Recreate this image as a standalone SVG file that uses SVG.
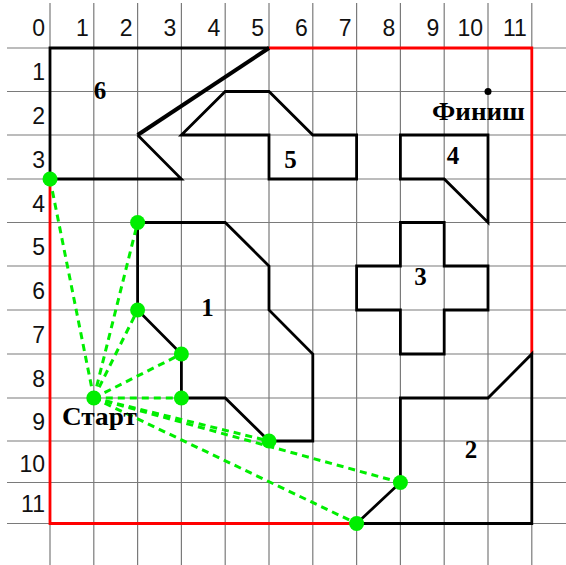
<svg xmlns="http://www.w3.org/2000/svg" width="566" height="565" viewBox="0 0 566 565">
<style>
.grid line{stroke:#7a7a7a;stroke-width:1.2}
.lbl{font-family:"Liberation Sans",Arial,sans-serif;font-size:23px;fill:#111;text-anchor:end}
.shape{fill:none;stroke:#000;stroke-width:2.8;stroke-linejoin:miter}
.num{font-family:"Liberation Serif","Times New Roman",serif;font-weight:bold;font-size:25px;fill:#000;text-anchor:middle}
.red{fill:none;stroke:#ff0000;stroke-width:2.8}
.dash{stroke:#00ee00;stroke-width:3;stroke-dasharray:7 5;fill:none}
.dot{fill:#00ee00}
</style>
<rect width="566" height="565" fill="#fff"/>
<g class="grid">
<line x1="50" y1="3" x2="50" y2="565"/>
<line x1="93.8" y1="3" x2="93.8" y2="565"/>
<line x1="137.6" y1="3" x2="137.6" y2="565"/>
<line x1="181.4" y1="3" x2="181.4" y2="565"/>
<line x1="225.2" y1="3" x2="225.2" y2="565"/>
<line x1="269" y1="3" x2="269" y2="565"/>
<line x1="312.8" y1="3" x2="312.8" y2="565"/>
<line x1="356.6" y1="3" x2="356.6" y2="565"/>
<line x1="400.4" y1="3" x2="400.4" y2="565"/>
<line x1="444.2" y1="3" x2="444.2" y2="565"/>
<line x1="488" y1="3" x2="488" y2="565"/>
<line x1="531.8" y1="3" x2="531.8" y2="565"/>
<line x1="7" y1="48" x2="566" y2="48"/>
<line x1="7" y1="91.5" x2="566" y2="91.5"/>
<line x1="7" y1="135" x2="566" y2="135"/>
<line x1="7" y1="179" x2="566" y2="179"/>
<line x1="7" y1="222.5" x2="566" y2="222.5"/>
<line x1="7" y1="266" x2="566" y2="266"/>
<line x1="7" y1="310" x2="566" y2="310"/>
<line x1="7" y1="354" x2="566" y2="354"/>
<line x1="7" y1="398" x2="566" y2="398"/>
<line x1="7" y1="441" x2="566" y2="441"/>
<line x1="7" y1="482.5" x2="566" y2="482.5"/>
<line x1="7" y1="523.5" x2="566" y2="523.5"/>
</g>
<g id="axis-labels">
<text class="lbl" x="45" y="36">0</text>
<text class="lbl" x="88.8" y="36">1</text>
<text class="lbl" x="132.6" y="36">2</text>
<text class="lbl" x="176.4" y="36">3</text>
<text class="lbl" x="220.2" y="36">4</text>
<text class="lbl" x="264" y="36">5</text>
<text class="lbl" x="307.8" y="36">6</text>
<text class="lbl" x="351.6" y="36">7</text>
<text class="lbl" x="395.4" y="36">8</text>
<text class="lbl" x="439.2" y="36">9</text>
<text class="lbl" x="483" y="36">10</text>
<text class="lbl" x="526.8" y="36">11</text>
<text class="lbl" x="45" y="80">1</text>
<text class="lbl" x="45" y="124">2</text>
<text class="lbl" x="45" y="168">3</text>
<text class="lbl" x="45" y="212">4</text>
<text class="lbl" x="45" y="255">5</text>
<text class="lbl" x="45" y="299">6</text>
<text class="lbl" x="45" y="343">7</text>
<text class="lbl" x="45" y="387">8</text>
<text class="lbl" x="45" y="430">9</text>
<text class="lbl" x="45" y="472">10</text>
<text class="lbl" x="45" y="512">11</text>
</g>
<g id="boundary">
<polyline class="red" points="269,48 531.8,48 531.8,354"/>
<polyline class="red" points="50,179 50,523.5 356.6,523.5"/>
</g>
<g id="obstacle-6">
<polyline class="shape" points="269,48 50,48 50,179 181.4,179 137.6,135"/>
<line x1="137.6" y1="135" x2="269" y2="48" stroke="#000" stroke-width="4"/>
<text class="num" x="100" y="99">6</text>
</g>
<g id="obstacle-5">
<polygon class="shape" points="181.4,135 225.2,91.5 269,91.5 312.8,135 356.6,135 356.6,179 269,179 269,135"/>
<text class="num" x="290.5" y="168">5</text>
</g>
<g id="obstacle-4">
<polygon class="shape" points="400.4,135 488,135 488,222.5 444.2,179 400.4,179"/>
<text class="num" x="453" y="164">4</text>
</g>
<g id="obstacle-3">
<polygon class="shape" points="400.4,222.5 444.2,222.5 444.2,266 488,266 488,310 444.2,310 444.2,354 400.4,354 400.4,310 356.6,310 356.6,266 400.4,266"/>
<text class="num" x="420.5" y="285">3</text>
</g>
<g id="obstacle-2">
<polygon class="shape" points="400.4,398 488,398 531.8,354 531.8,523.5 356.6,523.5 400.4,482.5"/>
<text class="num" x="471" y="458">2</text>
</g>
<g id="obstacle-1">
<polygon class="shape" points="137.6,222.5 225.2,222.5 269,266 269,310 312.8,354 312.8,441 269,441 225.2,398 181.4,398 181.4,354 137.6,310"/>
<text class="num" x="207.5" y="316">1</text>
</g>
<g id="finish">
<circle cx="488" cy="91.5" r="3.5" fill="#000"/>
<text x="432" y="120" font-family="'Liberation Serif','Times New Roman',serif" font-weight="bold" font-size="25" textLength="93" lengthAdjust="spacingAndGlyphs">Финиш</text>
</g>
<g id="connectors">
<line class="dash" x1="93.8" y1="398" x2="50" y2="179"/>
<line class="dash" x1="93.8" y1="398" x2="137.6" y2="222.5"/>
<line class="dash" x1="93.8" y1="398" x2="137.6" y2="310"/>
<line class="dash" x1="93.8" y1="398" x2="181.4" y2="354"/>
<line class="dash" x1="93.8" y1="398" x2="181.4" y2="398"/>
<line class="dash" x1="93.8" y1="398" x2="269" y2="441"/>
<line class="dash" x1="93.8" y1="398" x2="400.4" y2="482.5"/>
<line class="dash" x1="93.8" y1="398" x2="356.6" y2="523.5"/>
</g>
<g id="points">
<circle class="dot" cx="50" cy="179" r="7.5"/>
<circle class="dot" cx="137.6" cy="222.5" r="7.5"/>
<circle class="dot" cx="137.6" cy="310" r="7.5"/>
<circle class="dot" cx="181.4" cy="354" r="7.5"/>
<circle class="dot" cx="181.4" cy="398" r="7.5"/>
<circle class="dot" cx="269" cy="441" r="7.5"/>
<circle class="dot" cx="400.4" cy="482.5" r="7.5"/>
<circle class="dot" cx="356.6" cy="523.5" r="7.5"/>
</g>
<g id="start">
<circle class="dot" cx="93.8" cy="398" r="7.5"/>
<text x="62" y="425" font-family="'Liberation Serif','Times New Roman',serif" font-weight="bold" font-size="25" textLength="75" lengthAdjust="spacingAndGlyphs">Старт</text>
</g>
</svg>
